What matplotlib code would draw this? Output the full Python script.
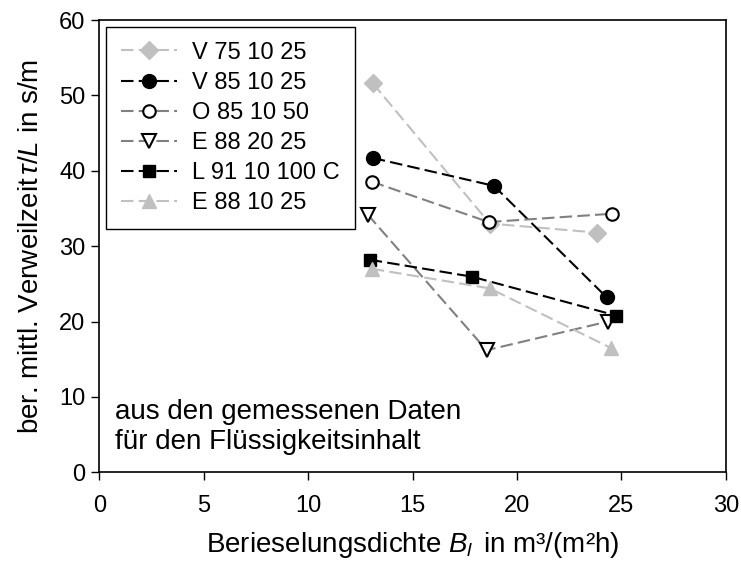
import matplotlib
matplotlib.use("Agg")
import matplotlib.pyplot as plt

plt.rcParams['font.family'] = ['Liberation Sans', 'DejaVu Sans']
plt.rcParams['mathtext.fontset'] = 'custom'
plt.rcParams['mathtext.rm'] = 'Liberation Sans'
plt.rcParams['mathtext.it'] = 'Liberation Sans:italic'
plt.rcParams['mathtext.bf'] = 'Liberation Sans:bold'

# Berieselungsdichte (x) and mean residence time per length (y) per packing
labels = ["V 75 10 25", "V 85 10 25", "O 85 10 50", "E 88 20 25", "L 91 10 100 C", "E 88 10 25"]

x_v75 = [13.1, 18.7, 23.85]
y_v75 = [51.6, 33.0, 31.8]

x_v85 = [13.1, 18.9, 24.3]
y_v85 = [41.7, 38.0, 23.2]

x_o85 = [13.05, 18.65, 24.55]
y_o85 = [38.55, 33.2, 34.3]

x_e88_20 = [12.85, 18.55, 24.35]
y_e88_20 = [34.2, 16.2, 20.0]

x_l91 = [12.95, 17.85, 24.75]
y_l91 = [28.2, 25.95, 20.8]

x_e88_10 = [13.05, 18.7, 24.5]
y_e88_10 = [27.0, 24.4, 16.5]

xticks = [0, 5, 10, 15, 20, 25, 30]
yticks = [0, 10, 20, 30, 40, 50, 60]

light = "#c0c0c0"
mid = "#808080"
dash = (6, 2.5)

styles = [
    dict(color=light, marker="D", mfc=light, mec=light, ms=9),
    dict(color="black", marker="o", mfc="black", mec="black", ms=10),
    dict(color=mid, marker="o", mfc="white", mec="black", ms=9, mew=1.5),
    dict(color=mid, marker="v", mfc="white", mec="black", ms=10, mew=1.5),
    dict(color="black", marker="s", mfc="black", mec="black", ms=8.5),
    dict(color=light, marker="^", mfc=light, mec=light, ms=10),
]
series = [(x_v75, y_v75), (x_v85, y_v85), (x_o85, y_o85),
          (x_e88_20, y_e88_20), (x_l91, y_l91), (x_e88_10, y_e88_10)]

fig = plt.figure(figsize=(7.41, 5.67), dpi=100)
ax = fig.add_axes([0.134, 0.167, 0.8454, 0.7977])

for (xs, ys), lab, st in zip(series, labels, styles):
    ax.plot(xs, ys, linestyle=(0, dash), linewidth=1.5, label=lab, **st)

ax.set_xlim(0, 30)
ax.set_ylim(0, 60)
ax.set_xticks(xticks)
ax.set_yticks(yticks)
ax.tick_params(direction="out", length=6, width=1, labelsize=17,
               top=False, right=False)
ax.tick_params(axis="x", pad=10)
ax.tick_params(axis="y", pad=4)
for sp in ax.spines.values():
    sp.set_linewidth(1.2)

ax.set_xlabel(r"Berieselungsdichte $B_l\,$ in m³/(m²h)", fontsize=20, labelpad=10)
ax.set_ylabel(r"ber. mittl. Verweilzeit$\,\tau/L$ in s/m", fontsize=20, labelpad=11)

ax.text(0.025, 0.118, "aus den gemessenen Daten", transform=ax.transAxes,
        fontsize=20, ha="left", va="baseline")
ax.text(0.025, 0.0515, "für den Flüssigkeitsinhalt", transform=ax.transAxes,
        fontsize=20, ha="left", va="baseline")

leg = ax.legend(loc="upper left", fontsize=17, frameon=True, fancybox=False,
                edgecolor="black", framealpha=1, handlelength=2.36,
                labelspacing=0.34, borderaxespad=0.3, borderpad=0.62,
                handletextpad=0.66)
leg.get_frame().set_linewidth(1.0)

fig.savefig("out.png", dpi=100)
